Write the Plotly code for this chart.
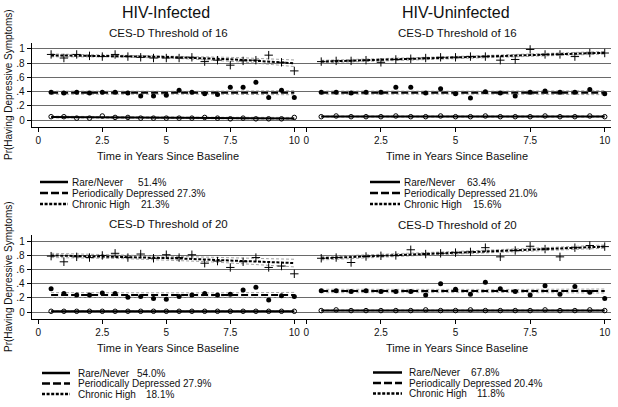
import plotly.graph_objects as go

W, H = 618, 407
FONT = "Liberation Sans, Arial, sans-serif"

times = [0.5, 1.0, 1.5, 2.0, 2.5, 3.0, 3.5, 4.0, 4.5, 5.0,
         5.5, 6.0, 6.5, 7.0, 7.5, 8.0, 8.5, 9.0, 9.5, 10.0]
x_tick_vals = [0, 2.5, 5, 7.5, 10]
x_tick_text = ["0", "2.5", "5", "7.5", "10"]
y_tick_vals = [0, 0.2, 0.4, 0.6, 0.8, 1.0]
y_tick_text = ["0", ".2", ".4", ".6", ".8", "1"]

group_names = ["Rare/Never", "Periodically Depressed", "Chronic High"]

# ---------- HIV-Infected, CES-D threshold 16 ----------
inf16_rare_obs = [0.05, 0.05, 0.03, 0.03, 0.06, 0.04, 0.04, 0.03, 0.03, 0.03,
                  0.03, 0.03, 0.04, 0.03, 0.02, 0.03, 0.02, 0.02, 0.02, 0.04]
inf16_rare_fit = [0.045, 0.044, 0.043, 0.042, 0.041, 0.040, 0.039, 0.038, 0.037, 0.036,
                  0.035, 0.034, 0.033, 0.032, 0.031, 0.030, 0.029, 0.028, 0.027, 0.026]
inf16_rare_ci = [0.012, 0.011, 0.011, 0.010, 0.010, 0.010, 0.010, 0.010, 0.010, 0.010,
                 0.010, 0.010, 0.010, 0.010, 0.011, 0.011, 0.012, 0.012, 0.013, 0.014]
inf16_per_obs = [0.39, 0.38, 0.39, 0.38, 0.39, 0.39, 0.38, 0.34, 0.34, 0.35,
                 0.42, 0.39, 0.37, 0.36, 0.46, 0.46, 0.53, 0.32, 0.42, 0.32]
inf16_per_fit = [0.385, 0.385, 0.385, 0.385, 0.385, 0.385, 0.385, 0.385, 0.385, 0.385,
                 0.385, 0.385, 0.385, 0.385, 0.385, 0.385, 0.385, 0.385, 0.385, 0.385]
inf16_per_ci = [0.022, 0.021, 0.020, 0.020, 0.019, 0.019, 0.019, 0.019, 0.019, 0.019,
                0.020, 0.020, 0.021, 0.022, 0.023, 0.024, 0.025, 0.026, 0.027, 0.028]
inf16_chr_obs = [0.92, 0.87, 0.92, 0.90, 0.89, 0.92, 0.89, 0.88, 0.87, 0.87,
                 0.87, 0.88, 0.82, 0.84, 0.77, 0.83, 0.84, 0.91, 0.81, 0.69]
inf16_chr_fit = [0.907, 0.906, 0.905, 0.903, 0.901, 0.899, 0.896, 0.893, 0.889, 0.885,
                 0.880, 0.874, 0.867, 0.860, 0.852, 0.843, 0.833, 0.822, 0.810, 0.797]
inf16_chr_ci = [0.020, 0.018, 0.016, 0.015, 0.014, 0.014, 0.014, 0.014, 0.015, 0.016,
                0.017, 0.019, 0.021, 0.024, 0.027, 0.030, 0.034, 0.038, 0.042, 0.046]

# ---------- HIV-Uninfected, CES-D threshold 16 ----------
uninf16_rare_obs = [0.05, 0.06, 0.05, 0.05, 0.05, 0.06, 0.05, 0.05, 0.06, 0.05,
                    0.05, 0.06, 0.05, 0.05, 0.05, 0.06, 0.05, 0.05, 0.06, 0.05]
uninf16_rare_fit = [0.052, 0.052, 0.052, 0.052, 0.052, 0.052, 0.052, 0.052, 0.052, 0.052,
                    0.052, 0.052, 0.052, 0.052, 0.052, 0.052, 0.052, 0.052, 0.052, 0.052]
uninf16_rare_ci = [0.008, 0.008, 0.008, 0.008, 0.008, 0.008, 0.008, 0.008, 0.008, 0.008,
                   0.008, 0.008, 0.008, 0.008, 0.008, 0.009, 0.009, 0.009, 0.010, 0.010]
uninf16_per_obs = [0.39, 0.39, 0.38, 0.39, 0.39, 0.46, 0.46, 0.38, 0.44, 0.37,
                   0.31, 0.40, 0.38, 0.34, 0.39, 0.41, 0.39, 0.39, 0.43, 0.37]
uninf16_per_fit = [0.386, 0.386, 0.386, 0.386, 0.386, 0.386, 0.386, 0.386, 0.386, 0.386,
                   0.386, 0.386, 0.386, 0.386, 0.386, 0.386, 0.386, 0.386, 0.386, 0.386]
uninf16_per_ci = [0.022, 0.021, 0.020, 0.020, 0.019, 0.019, 0.019, 0.019, 0.019, 0.019,
                  0.020, 0.020, 0.021, 0.022, 0.023, 0.024, 0.025, 0.026, 0.027, 0.028]
uninf16_chr_obs = [0.82, 0.83, 0.83, 0.84, 0.81, 0.85, 0.86, 0.87, 0.88, 0.88,
                   0.89, 0.89, 0.84, 0.85, 0.99, 0.92, 0.92, 0.89, 0.94, 0.94]
uninf16_chr_fit = [0.820, 0.826, 0.833, 0.839, 0.846, 0.852, 0.859, 0.865, 0.872, 0.878,
                   0.885, 0.891, 0.898, 0.904, 0.911, 0.917, 0.924, 0.930, 0.937, 0.943]
uninf16_chr_ci = [0.018, 0.017, 0.016, 0.015, 0.014, 0.014, 0.014, 0.014, 0.014, 0.014,
                  0.014, 0.014, 0.014, 0.014, 0.015, 0.015, 0.016, 0.017, 0.018, 0.019]

# ---------- HIV-Infected, CES-D threshold 20 ----------
inf20_rare_obs = [0.01, 0.01, 0.01, 0.01, 0.01, 0.01, 0.01, 0.01, 0.01, 0.01,
                  0.01, 0.01, 0.01, 0.01, 0.01, 0.01, 0.01, 0.01, 0.01, 0.01]
inf20_rare_fit = [0.010, 0.010, 0.010, 0.010, 0.010, 0.010, 0.010, 0.010, 0.010, 0.010,
                  0.010, 0.010, 0.010, 0.010, 0.010, 0.010, 0.010, 0.010, 0.010, 0.010]
inf20_rare_ci = [0.005, 0.005, 0.005, 0.005, 0.005, 0.005, 0.005, 0.005, 0.005, 0.005,
                 0.005, 0.005, 0.005, 0.005, 0.005, 0.005, 0.005, 0.005, 0.005, 0.005]
inf20_per_obs = [0.33, 0.26, 0.24, 0.24, 0.27, 0.26, 0.21, 0.22, 0.19, 0.18,
                 0.22, 0.24, 0.26, 0.24, 0.25, 0.31, 0.35, 0.17, 0.23, 0.22]
inf20_per_fit = [0.240, 0.240, 0.240, 0.240, 0.240, 0.240, 0.240, 0.240, 0.240, 0.240,
                 0.240, 0.240, 0.240, 0.240, 0.240, 0.240, 0.240, 0.240, 0.240, 0.240]
inf20_per_ci = [0.034, 0.033, 0.032, 0.031, 0.031, 0.030, 0.030, 0.030, 0.030, 0.030,
                0.030, 0.030, 0.031, 0.031, 0.032, 0.033, 0.034, 0.035, 0.036, 0.037]
inf20_chr_obs = [0.79, 0.71, 0.78, 0.77, 0.80, 0.83, 0.77, 0.82, 0.76, 0.81,
                 0.77, 0.81, 0.69, 0.72, 0.63, 0.71, 0.77, 0.63, 0.65, 0.54]
inf20_chr_fit = [0.800, 0.797, 0.794, 0.790, 0.786, 0.782, 0.778, 0.773, 0.768, 0.763,
                 0.757, 0.751, 0.745, 0.738, 0.731, 0.724, 0.716, 0.708, 0.700, 0.692]
inf20_chr_ci = [0.030, 0.028, 0.027, 0.026, 0.025, 0.025, 0.025, 0.025, 0.026, 0.027,
                0.028, 0.030, 0.032, 0.034, 0.037, 0.040, 0.043, 0.046, 0.050, 0.054]

# ---------- HIV-Uninfected, CES-D threshold 20 ----------
uninf20_rare_obs = [0.02, 0.03, 0.02, 0.02, 0.02, 0.02, 0.02, 0.03, 0.02, 0.02,
                    0.03, 0.02, 0.02, 0.02, 0.02, 0.03, 0.02, 0.02, 0.03, 0.02]
uninf20_rare_fit = [0.022, 0.022, 0.022, 0.022, 0.022, 0.022, 0.022, 0.022, 0.022, 0.022,
                    0.022, 0.022, 0.022, 0.022, 0.022, 0.022, 0.022, 0.022, 0.022, 0.022]
uninf20_rare_ci = [0.006, 0.006, 0.006, 0.006, 0.006, 0.006, 0.006, 0.006, 0.006, 0.006,
                   0.006, 0.006, 0.006, 0.006, 0.006, 0.006, 0.006, 0.006, 0.006, 0.006]
uninf20_per_obs = [0.30, 0.30, 0.29, 0.30, 0.29, 0.29, 0.29, 0.24, 0.40, 0.32,
                   0.25, 0.42, 0.33, 0.29, 0.24, 0.37, 0.25, 0.36, 0.28, 0.19]
uninf20_per_fit = [0.297, 0.297, 0.297, 0.297, 0.297, 0.297, 0.297, 0.297, 0.297, 0.297,
                   0.297, 0.297, 0.297, 0.297, 0.297, 0.297, 0.297, 0.297, 0.297, 0.297]
uninf20_per_ci = [0.024, 0.023, 0.022, 0.022, 0.021, 0.021, 0.021, 0.021, 0.021, 0.021,
                  0.021, 0.021, 0.022, 0.022, 0.023, 0.024, 0.025, 0.026, 0.027, 0.028]
uninf20_chr_obs = [0.76, 0.77, 0.70, 0.785, 0.795, 0.80, 0.88, 0.82, 0.83, 0.84,
                   0.85, 0.91, 0.78, 0.87, 0.93, 0.89, 0.78, 0.91, 0.94, 0.925]
uninf20_chr_fit = [0.760, 0.769, 0.777, 0.786, 0.795, 0.803, 0.812, 0.821, 0.829, 0.838,
                   0.847, 0.856, 0.864, 0.873, 0.882, 0.890, 0.899, 0.908, 0.916, 0.925]
uninf20_chr_ci = [0.024, 0.022, 0.021, 0.020, 0.019, 0.018, 0.018, 0.018, 0.018, 0.018,
                  0.018, 0.018, 0.018, 0.018, 0.019, 0.019, 0.020, 0.021, 0.022, 0.023]

# Legend percentages per panel (Rare/Never, Periodically Depressed, Chronic High)
inf16_pct = ["51.4%", "27.3%", "21.3%"]
uninf16_pct = ["63.4%", "21.0%", "15.6%"]
inf20_pct = ["54.0%", "27.9%", "18.1%"]
uninf20_pct = ["67.8%", "20.4%", "11.8%"]

# ---------------------------------------------------------------
def fx(px):
    return px / W


def fy(py):
    return 1 - py / H


fig = go.Figure()

marker_styles = [
    dict(symbol="circle-open", size=4.5, color="black", line=dict(width=1, color="black")),
    dict(symbol="circle", size=5, color="black"),
    dict(symbol="cross-thin", size=6, color="black", line=dict(width=1, color="black")),
]
fit_dash = ["solid", "7px,3px", "3px,1.6px"]
ci_color = "#9a9a9a"

panels = [
    ("x", "y", [(inf16_rare_obs, inf16_rare_fit, inf16_rare_ci),
                (inf16_per_obs, inf16_per_fit, inf16_per_ci),
                (inf16_chr_obs, inf16_chr_fit, inf16_chr_ci)]),
    ("x2", "y2", [(uninf16_rare_obs, uninf16_rare_fit, uninf16_rare_ci),
                  (uninf16_per_obs, uninf16_per_fit, uninf16_per_ci),
                  (uninf16_chr_obs, uninf16_chr_fit, uninf16_chr_ci)]),
    ("x3", "y3", [(inf20_rare_obs, inf20_rare_fit, inf20_rare_ci),
                  (inf20_per_obs, inf20_per_fit, inf20_per_ci),
                  (inf20_chr_obs, inf20_chr_fit, inf20_chr_ci)]),
    ("x4", "y4", [(uninf20_rare_obs, uninf20_rare_fit, uninf20_rare_ci),
                  (uninf20_per_obs, uninf20_per_fit, uninf20_per_ci),
                  (uninf20_chr_obs, uninf20_chr_fit, uninf20_chr_ci)]),
]

for xa, ya, groups in panels:
    for gi, (obs, fit, ci) in enumerate(groups):
        upper = [f + c for f, c in zip(fit, ci)]
        lower = [f - c for f, c in zip(fit, ci)]
        for band in (upper, lower):
            fig.add_trace(go.Scatter(
                x=times, y=band, xaxis=xa, yaxis=ya, mode="lines",
                line=dict(color=ci_color, width=0.9, dash="3px,2px"),
                showlegend=False, hoverinfo="skip"))
        fig.add_trace(go.Scatter(
            x=times, y=obs, xaxis=xa, yaxis=ya, mode="markers",
            marker=marker_styles[gi], showlegend=False, name=group_names[gi]))
        fig.add_trace(go.Scatter(
            x=times, y=fit, xaxis=xa, yaxis=ya, mode="lines",
            line=dict(color="black", width=2, dash=fit_dash[gi]),
            showlegend=False, name=group_names[gi]))

tickfont = dict(family=FONT, size=10, color="#111")
grid_color = "#6a6a6a"


def xaxis_cfg(dom_px, rng):
    return dict(domain=[fx(dom_px[0]), fx(dom_px[1])], range=rng,
                tickvals=x_tick_vals, ticktext=x_tick_text, ticks="outside",
                ticklen=4, tickwidth=1, tickcolor="black", showline=True,
                linecolor="black", linewidth=1, showgrid=False, zeroline=False,
                tickfont=tickfont, fixedrange=True, ticklabeloverflow="allow")


def yaxis_cfg(dom_px, rng, labels):
    return dict(domain=[fy(dom_px[1]), fy(dom_px[0])], range=rng,
                tickvals=y_tick_vals, ticktext=y_tick_text,
                ticks="outside" if labels else "", ticklen=4, tickwidth=1,
                tickcolor="black", showticklabels=labels, showline=labels,
                linecolor="black", linewidth=1, showgrid=True,
                gridcolor=grid_color, gridwidth=1, zeroline=False,
                tickfont=tickfont, fixedrange=True)


left_x = ([31.7, 306], [-0.258, 10.457])
right_x = ([303, 611], [-0.111, 10.21])
top_y = ([43, 127], [-0.094, 1.08])
bot_y = ([235, 319], [-0.099, 1.089])

fig.update_layout(
    width=W, height=H, margin=dict(l=0, r=0, t=0, b=0),
    paper_bgcolor="white", plot_bgcolor="white", showlegend=False,
    font=dict(family=FONT, color="#111"),
    xaxis=xaxis_cfg(*left_x), yaxis=yaxis_cfg(*top_y, True),
    xaxis2=xaxis_cfg(*right_x), yaxis2=yaxis_cfg(*top_y, False),
    xaxis3=xaxis_cfg(*left_x), yaxis3=yaxis_cfg(*bot_y, True),
    xaxis4=xaxis_cfg(*right_x), yaxis4=yaxis_cfg(*bot_y, False),
)
for i in (2, 3, 4):
    fig.layout[f"xaxis{i}"].anchor = f"y{i}"
    fig.layout[f"yaxis{i}"].anchor = f"x{i}"

ann = []


def text(x, y, s, size, xanchor="center", angle=0):
    ann.append(dict(x=fx(x), y=fy(y), xref="paper", yref="paper", text=s,
                    showarrow=False, xanchor=xanchor, yanchor="middle",
                    textangle=angle, font=dict(family=FONT, size=size, color="#111")))


text(166, 13, "HIV-Infected", 16)
text(456, 13, "HIV-Uninfected", 16)
text(168, 33, "CES-D Threshold of 16", 11.5)
text(457, 33, "CES-D Threshold of 16", 11.5)
text(168, 224, "CES-D Threshold of 20", 11.5)
text(457, 225, "CES-D Threshold of 20", 11.5)
for yy in (156, 348):
    text(168, yy, "Time in Years Since Baseline", 11)
    text(457, yy, "Time in Years Since Baseline", 11)
text(8, 85, "Pr(Having Depressive Symptoms)", 10, angle=-90)
text(8, 277, "Pr(Having Depressive Symptoms)", 10, angle=-90)

shapes = []
legend_dash = ["solid", "8px,3px", "3px,1.6px"]


def legend(line_x0, line_x1, text_x, pct_x, rows_y, pcts):
    for gi in range(3):
        y = rows_y[gi]
        shapes.append(dict(type="line", xref="paper", yref="paper",
                           x0=fx(line_x0), x1=fx(line_x1), y0=fy(y), y1=fy(y),
                           line=dict(color="black", width=2.5, dash=legend_dash[gi])))
        if gi == 1:
            text(text_x, y, group_names[gi] + " " + pcts[gi], 10, xanchor="left")
        else:
            text(text_x, y, group_names[gi], 10, xanchor="left")
            text(pct_x[gi], y, pcts[gi], 10, xanchor="left")


legend(40, 68, 70, {0: 136, 2: 139}, [182, 193, 204], inf16_pct)
legend(370, 400, 402, {0: 465, 2: 471}, [182, 193, 204], uninf16_pct)
legend(42, 70, 76, {0: 135, 2: 144}, [373, 383.5, 394], inf20_pct)
legend(373, 402, 407, {0: 469, 2: 475}, [372.5, 383, 393.5], uninf20_pct)

fig.update_layout(annotations=ann, shapes=shapes)
fig.write_html(
    "out.html",
    config={"displayModeBar": False, "staticPlot": True},
    post_script="document.body.style.margin='0';document.body.style.overflow='hidden';",
)
